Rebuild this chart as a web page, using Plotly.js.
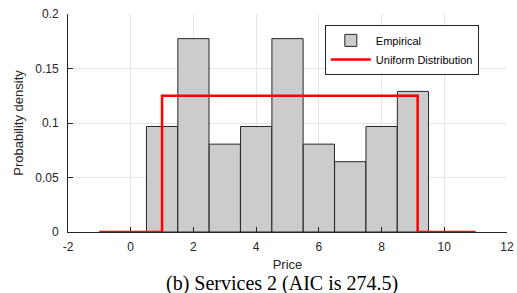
<!DOCTYPE html>
<html>
<head>
<meta charset="utf-8">
<script src="https://cdn.plot.ly/plotly-3.0.1.min.js"></script>
<style>html,body{margin:0;padding:0;background:#fff;}#chart{width:517px;height:293px;}</style>
</head>
<body>
<div id="chart"></div>
<script>
// Histogram (empirical density)
var binCenters = [1, 2, 3, 4, 5, 6, 7, 8, 9];
var binDensity = [0.0968, 0.1774, 0.0806, 0.0968, 0.1774, 0.0806, 0.0645, 0.0968, 0.1290];
var binWidth = 0.995;
// Uniform distribution fit
var uniformX = [-1, 1, 1, 9.15, 9.15, 11];
var uniformY = [0, 0, 0.125, 0.125, 0, 0];
// Ticks
var xTicks = [-2, 0, 2, 4, 6, 8, 10, 12];
var xTickText = ['-2', '0', '2', '4', '6', '8', '10', '12'];
var yTicks = [0, 0.05, 0.1, 0.15, 0.2];
var yTickText = ['0', '0.05', '0.1', '0.15', '0.2'];

var traces = [
  {
    type: 'bar', name: 'Empirical', x: binCenters, y: binDensity, width: binWidth,
    marker: {color: '#cccccc', line: {color: '#262626', width: 1}}
  },
  {
    type: 'scatter', mode: 'lines', name: 'Uniform Distribution', x: uniformX, y: uniformY,
    line: {color: '#ff0000', width: 2.5}
  }
];

var fam = 'Liberation Sans, Arial, sans-serif';
var layout = {
  width: 517, height: 293,
  margin: {l: 68, r: 10, t: 14, b: 61},
  paper_bgcolor: '#fff', plot_bgcolor: '#fff',
  font: {family: fam, size: 12, color: '#262626'},
  showlegend: true,
  legend: {
    x: 0.585, y: 0.95, xanchor: 'left', yanchor: 'top',
    bordercolor: '#262626', borderwidth: 1, bgcolor: '#fff',
    font: {family: fam, size: 11, color: '#000'},
    tracegroupgap: 0, itemwidth: 40, entrywidth: 120
  },
  xaxis: {
    range: [-2, 12], tickvals: xTicks, ticktext: xTickText,
    showgrid: true, gridcolor: '#e6e6e6', gridwidth: 1,
    showline: true, linecolor: '#262626', linewidth: 1, mirror: false,
    ticks: 'inside', ticklen: 5, tickcolor: '#262626', zeroline: false,
    ticklabelstandoff: 4,
    tickfont: {family: fam, size: 12, color: '#262626'},
    title: {text: 'Price', font: {family: fam, size: 13, color: '#262626'}, standoff: 6},
    fixedrange: true
  },
  yaxis: {
    range: [0, 0.2], tickvals: yTicks, ticktext: yTickText,
    showgrid: true, gridcolor: '#e6e6e6', gridwidth: 1,
    showline: true, linecolor: '#262626', linewidth: 1, mirror: false,
    ticks: 'inside', ticklen: 5, tickcolor: '#262626', zeroline: false,
    ticklabelstandoff: 6,
    tickfont: {family: fam, size: 12, color: '#262626'},
    title: {text: 'Probability density', font: {family: fam, size: 13, color: '#262626'}, standoff: 8},
    fixedrange: true
  },
  annotations: [{
    text: '(b) Services 2 (AIC is 274.5)', xref: 'paper', yref: 'paper',
    x: 0.487, y: -0.234, xanchor: 'center', yanchor: 'middle', showarrow: false,
    font: {family: 'Liberation Serif, Times New Roman, serif', size: 20, color: '#000'}
  }]
};
Plotly.newPlot('chart', traces, layout, {displayModeBar: false, staticPlot: true});
</script>
</body>
</html>
